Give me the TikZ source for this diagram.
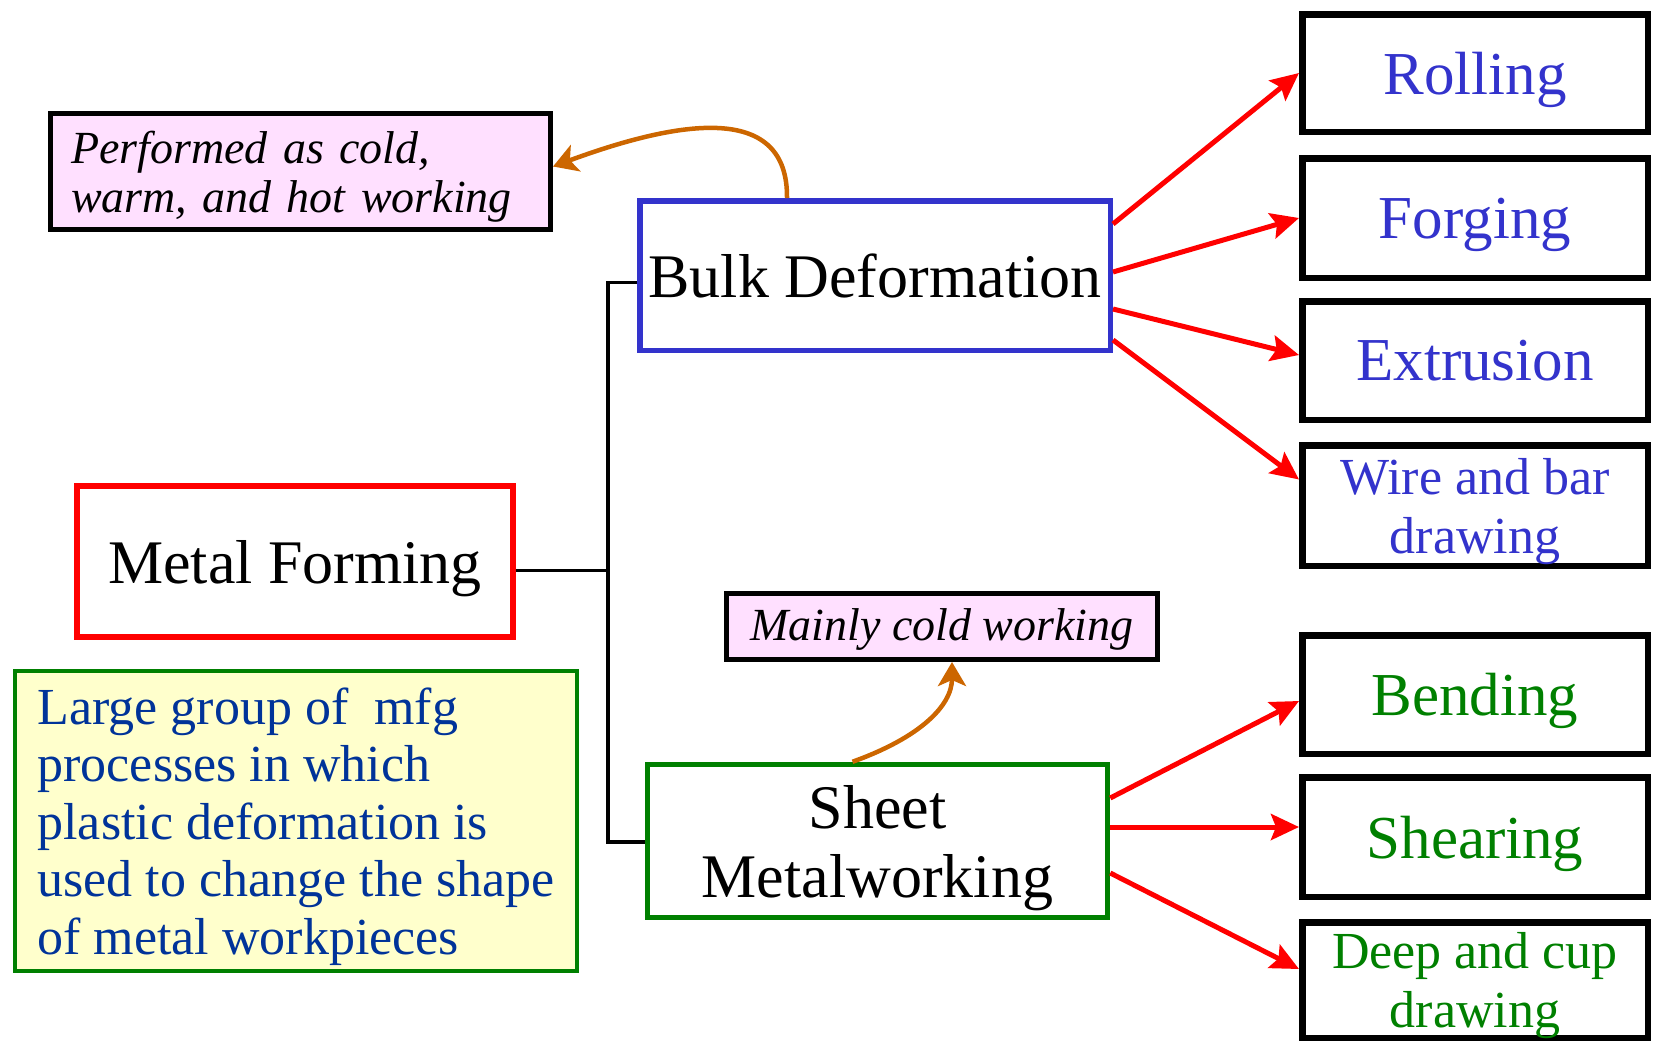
\documentclass[tikz,border=0pt]{standalone}
\usepackage{fontspec}
\setmainfont{Liberation Serif}
\usetikzlibrary{arrows.meta}
\definecolor{bblue}{RGB}{51,51,204}
\definecolor{ggreen}{RGB}{0,128,0}
\definecolor{oorange}{RGB}{204,102,0}
\definecolor{ppink}{RGB}{255,224,255}
\definecolor{yyellow}{RGB}{255,255,204}
\definecolor{nnavy}{RGB}{0,51,153}
\begin{document}
\begin{tikzpicture}[x=1pt,y=-1pt,
  box/.style={draw, rectangle, inner sep=0pt, align=center, fill=white},
  mainbox/.style={box, line width=5.5pt, font=\fontsize{62}{69}\selectfont},
  procbox/.style={box, draw=black, line width=6.5pt, minimum width=345.5pt, text depth=0pt},
  bigproc/.style={procbox, font=\fontsize{61}{66}\selectfont},
  smallproc/.style={procbox, font=\fontsize{52}{59}\selectfont},
  notebox/.style={box, draw=black, fill=ppink, line width=5pt, font=\fontsize{46}{49}\selectfont\itshape},
  conn/.style={draw=black, line width=3.5pt},
  redarr/.style={draw=red, line width=5pt, -{Stealth[length=28pt,width=26pt,inset=5pt]}},
  orarr/.style={draw=oorange, line width=4.5pt, -{Stealth[length=24pt,width=28pt,inset=6pt]}}
]
\useasboundingbox (0,0) rectangle (1657,1042);

% main boxes
\node[mainbox, draw=bblue, minimum width=470.5pt, minimum height=149.5pt] (bulk) at (875,275.5) {Bulk Deformation};
\node[mainbox, draw=red, line width=6pt, text depth=0pt, minimum width=436pt, minimum height=151pt] (mf) at (295,561.5) {Metal Forming};
\node[mainbox, draw=ggreen, text depth=0pt, minimum width=460pt, minimum height=153pt] (sheet) at (877.5,841) {Sheet\\Metalworking};

% notes
\node[notebox, align=left, text width=459pt, inner xsep=20.5pt, text depth=49pt, minimum height=116pt] (perf) at (300.5,171.5) {Performed as cold,\\warm, and hot working};
\node[notebox, text depth=3pt, minimum width=431pt, minimum height=66pt] (cold) at (942,626.5) {Mainly cold working};
\node[box, draw=ggreen, fill=yyellow, line width=4pt, align=left, text depth=0pt, minimum width=562pt, minimum height=300pt, text=nnavy, font=\fontsize{52}{57.4}\selectfont] (large) at (296,821) {Large group of\ \ mfg\\processes in which\\plastic deformation is\\used to change the shape\\of metal workpieces};

% process boxes
\node[bigproc, text=bblue, minimum height=117.5pt] (roll) at (1475,73) {Rolling};
\node[bigproc, text=bblue, minimum height=119.5pt] (forg) at (1475,218) {Forging};
\node[bigproc, text=bblue, minimum height=118.5pt] (extr) at (1475,360.5) {Extrusion};
\node[smallproc, text=bblue, minimum height=120.5pt] (wire) at (1475,505.5) {Wire and bar\\drawing};
\node[bigproc, text=ggreen, minimum height=118.5pt] (bend) at (1475,694.5) {Bending};
\node[bigproc, text=ggreen, minimum height=119.5pt] (shear) at (1475,837) {Shearing};
\node[smallproc, text=ggreen, minimum height=115.5pt] (deep) at (1475,980) {Deep and cup\\drawing};

% tree connectors
\coordinate (spine) at (608,500);
\coordinate (mfo) at ([yshift=-9pt]mf.east);
\draw[conn] (mfo) -- (mfo -| spine);
\draw[conn] ([yshift=-7pt]bulk.west) -| (spine) |- ([yshift=-1pt]sheet.west);

% red arrows
\draw[redarr] ([yshift=51.5pt]bulk.east) -- (roll.west);
\draw[redarr] ([yshift=3.5pt]bulk.east) -- (forg.west);
\draw[redarr] ([yshift=-33.5pt]bulk.east) -- ([yshift=5.5pt]extr.west);
\draw[redarr] ([yshift=-64.5pt]bulk.east) -- ([yshift=26pt]wire.west);
\draw[redarr] ([yshift=43pt]sheet.east) -- ([yshift=-6.5pt]bend.west);
\draw[redarr] ([yshift=14pt]sheet.east) -- ([yshift=10pt]shear.west);
\draw[redarr] ([yshift=-32pt]sheet.east) -- ([yshift=11pt]deep.west);

% orange notes arrows
\draw[orarr] ([xshift=-88pt]bulk.north) .. controls +(1,-93) and +(133,-49) .. ([yshift=5pt]perf.east);
\draw[orarr] ([xshift=-25pt]sheet.north) .. controls +(67,-24) and +(0,44) .. ([xshift=10pt]cold.south);
\end{tikzpicture}
\end{document}
